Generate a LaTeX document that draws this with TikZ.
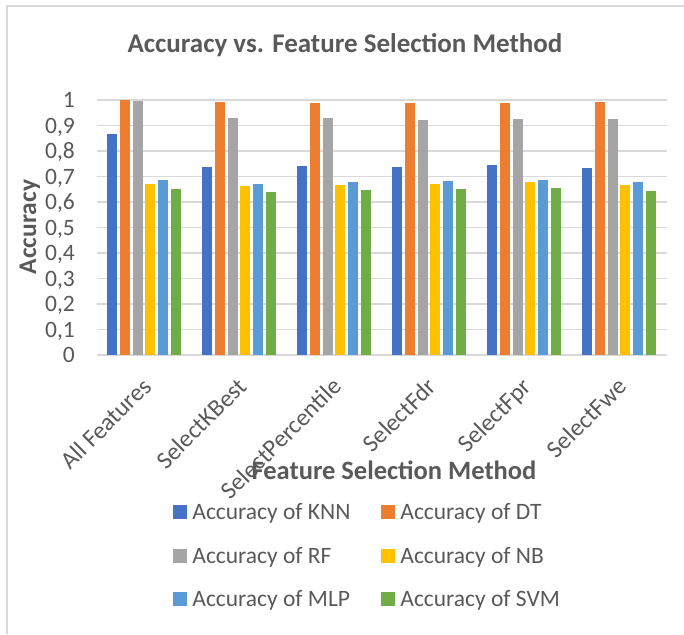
\documentclass[tikz,border=0pt]{standalone}
\usepackage{fontspec}
\setmainfont{Carlito}
\usetikzlibrary{positioning}
\definecolor{bar0}{HTML}{4472C4}
\definecolor{bar1}{HTML}{ED7D31}
\definecolor{bar2}{HTML}{A5A5A5}
\definecolor{bar3}{HTML}{FFC000}
\definecolor{bar4}{HTML}{5B9BD5}
\definecolor{bar5}{HTML}{70AD47}
\definecolor{inkgray}{HTML}{595959}
\definecolor{gridgray}{HTML}{D9D9D9}

\begin{document}
\begin{tikzpicture}[x=1pt, y=1pt, inner sep=0pt, text=inkgray,
    frame/.style={draw=gridgray, line width=1.5pt},
    gridline/.style={draw=gridgray, line width=1.5pt},
    plain/.style={font=\fontsize{23.5}{28}\selectfont},
    catlabel/.style={font=\fontsize{24.5}{29}\selectfont, rotate=45, anchor=north east},
    heading/.style={font=\fontsize{27}{32}\selectfont\bfseries},
    axistitle/.style={font=\fontsize{25.5}{30}\selectfont\bfseries},
    keybox/.style={minimum size=14pt, fill=#1}]
\useasboundingbox (0,0) rectangle (684,634);
\draw[frame] (7,0) -- (7,628) -- (684,628);
\node[heading, anchor=base] (title) at (345,581.5) {Accuracy vs. Feature Selection Method};
\begin{scope}[shift={(97,279)}]
  \foreach \t/\lab [count=\i from 0] in {0/0,0.1/{0,1},0.2/{0,2},0.3/{0,3},0.4/{0,4},0.5/{0,5},
      0.6/{0,6},0.7/{0,7},0.8/{0,8},0.9/{0,9},1/1} {
    \draw[gridline] (0,255*\t) -- (570,255*\t);
    \node[plain, anchor=base east] (tick\i) at (-22,255*\t-7.8) {\lab};
  }
  \foreach \cat/\vals [count=\g from 0] in {
      All Features/{0.867,1.0,0.998,0.672,0.685,0.651},
      SelectKBest/{0.736,0.991,0.928,0.664,0.671,0.640},
      SelectPercentile/{0.740,0.987,0.931,0.668,0.680,0.648},
      SelectFdr/{0.736,0.987,0.923,0.671,0.681,0.651},
      SelectFpr/{0.746,0.987,0.927,0.678,0.686,0.656},
      SelectFwe/{0.735,0.991,0.925,0.667,0.677,0.644}} {
    \foreach \v [count=\k from 0] in \vals
      \fill[bar\k] (95*\g+10.3+12.7*\k,0) rectangle ++(10,255*\v);
    \node[catlabel] (cat\g) at (95*\g+44,-21) {\cat};
  }
\end{scope}
\node[axistitle, rotate=90, anchor=base] (ytitle) at (36,407) {Accuracy};
\node[axistitle, font=\fontsize{26.5}{31}\selectfont\bfseries, anchor=base] (xtitle) at (394,154) {Feature Selection Method};
\foreach \m [count=\i from 0] in {KNN,DT,RF,NB,MLP,SVM} {
  \pgfmathtruncatemacro{\col}{mod(\i,2)}
  \pgfmathtruncatemacro{\row}{int(\i/2)}
  \node[keybox=bar\i] (key\i) at (180+208*\col,122-43.6*\row) {};
  \node[plain, anchor=base west] (lbl\i) at ([xshift=5pt,yshift=-7.6pt]key\i.east) {Accuracy of \m};
}
\end{tikzpicture}
\end{document}
